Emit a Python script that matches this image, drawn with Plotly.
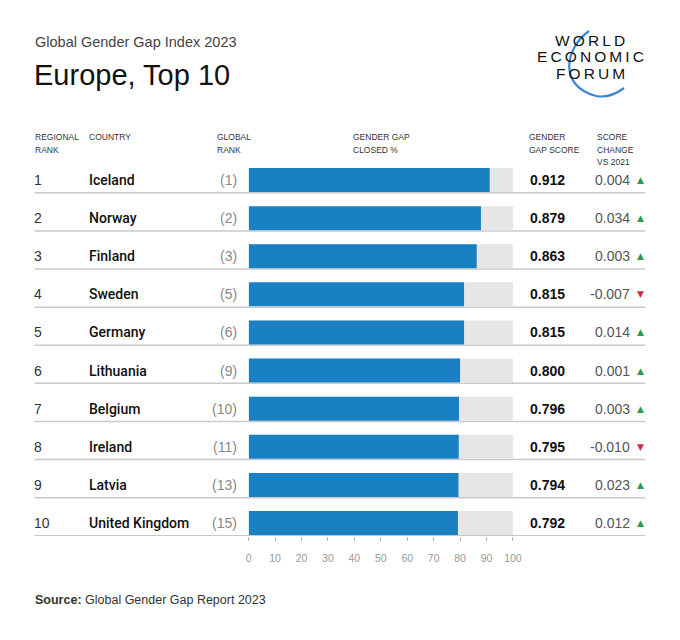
import plotly.graph_objects as go

# ---- data ----
regional_rank = [1, 2, 3, 4, 5, 6, 7, 8, 9, 10]
countries = ["Iceland", "Norway", "Finland", "Sweden", "Germany",
             "Lithuania", "Belgium", "Ireland", "Latvia", "United Kingdom"]
global_rank = [1, 2, 3, 5, 6, 9, 10, 11, 13, 15]
scores = [0.912, 0.879, 0.863, 0.815, 0.815, 0.800, 0.796, 0.795, 0.794, 0.792]
changes = [0.004, 0.034, 0.003, -0.007, 0.014, 0.001, 0.003, -0.010, 0.023, 0.012]
tick_values = [0, 10, 20, 30, 40, 50, 60, 70, 80, 90, 100]
full_scale = 100

W, H = 664, 620   # figure fits inside the 680x640 window with the default 8px body margin
OFF = 8
XS, XC = 0.981, 3.7   # observed horizontal mapping of the capture
FONT = "Liberation Sans, Arial, sans-serif"
BLUE = "#1a80c4"
GREY_BAR = "#e6e6e6"

closed_pct = [s * 100 for s in scores]

fig = go.Figure()
fig.add_trace(go.Bar(x=[full_scale] * len(countries), y=countries, orientation="h",
                     marker=dict(color=GREY_BAR, line=dict(width=0)), width=0.63,
                     hoverinfo="skip", showlegend=False))
fig.add_trace(go.Bar(x=closed_pct, y=countries, orientation="h",
                     marker=dict(color=BLUE, line=dict(width=0)), width=0.63,
                     hoverinfo="skip", showlegend=False))


def px(x):
    return ((x - XC) / XS - OFF) / W


def py(y):
    return 1 - (y - OFF) / H


anns = []


def ann(text, x, y, size, color, xanchor="left", yref="paper", family=FONT, weight=None):
    f = dict(size=size, color=color, family=family)
    if weight:
        f["weight"] = weight
    anns.append(dict(text=text, x=x, y=y, xref="paper", yref=yref,
                     xanchor=xanchor, yanchor="middle", showarrow=False,
                     font=f, borderpad=0))


# titles
ann("Global Gender Gap Index 2023", px(35), py(42), 14.5, "#444")
ann("Europe, Top 10", px(34), py(75), 29, "#111")

# logo text
TS = "\u2009"
ann(TS.join("WORLD"), px(590.5), py(40), 15.5, "#111", xanchor="center")
ann(TS.join("ECONOMIC"), px(590.5), py(57), 15.5, "#111", xanchor="center")
ann(TS.join("FORUM"), px(590.5), py(73), 15.5, "#111", xanchor="center")

# column headers
HC = "#333"
HS = 8.5
headers = [
    (35, ["REGIONAL", "RANK"]),
    (88, ["COUNTRY"]),
    (216, ["GLOBAL", "RANK"]),
    (352, ["GENDER GAP", "CLOSED %"]),
    (528, ["GENDER", "GAP SCORE"]),
    (596, ["SCORE", "CHANGE", "VS 2021"]),
]
for x, lines in headers:
    for k, line in enumerate(lines):
        ann(line, px(x), py(137 + 12.5 * k), HS, HC)

# rows
for i, c in enumerate(countries):
    ann(str(regional_rank[i]), px(34), c, 14, "#333", yref="y")
    ann(c, px(88), c, 14, "#111", yref="y", family="Roboto, Liberation Sans, sans-serif", weight=500)
    ann(f"({global_rank[i]})", px(238), c, 14, "#888", xanchor="right", yref="y")
    ann(f"{scores[i]:.3f}", px(529), c, 14, "#111", yref="y", weight="bold")
    ann(f"{changes[i]:.3f}", px(631), c, 14, "#555", xanchor="right", yref="y")
    up = changes[i] >= 0
    ann("▲" if up else "▼", px(640), c, 9, "#2f9a4c" if up else "#cc2f3c",
        xanchor="center", yref="y", family="DejaVu Sans, sans-serif")

# source
ann("<b>Source:</b> Global Gender Gap Report 2023", px(35), py(600), 12.5, "#333")

shapes = []
for i, c in enumerate(countries):
    shapes.append(dict(type="line", xref="paper", yref="y", x0=px(35), x1=px(645),
                       y0=i + 0.335, y1=i + 0.335, line=dict(color="#c9c9c9", width=1.5),
                       layer="below"))

# logo arc
arc = (f"M {px(589)},{py(31)} C {px(565)},{py(48)} {px(558)},{py(86)} {px(596)},{py(96)} "
       f"C {px(607)},{py(98)} {px(616)},{py(94)} {px(624)},{py(88)}")
shapes.append(dict(type="path", xref="paper", yref="paper", path=arc,
                   line=dict(color="#3a86d6", width=2.2)))

fig.update_layout(
    width=W, height=H,
    margin=dict(l=0, r=0, t=0, b=0),
    paper_bgcolor="white", plot_bgcolor="white",
    barmode="overlay",
    font=dict(family=FONT),
    xaxis=dict(domain=[px(249), px(513)], range=[0, full_scale], tickvals=tick_values,
               ticks="outside", ticklen=4, tickcolor="#b5b5b5", tickwidth=1,
               tickfont=dict(size=10.5, color="#999", family=FONT),
               ticklabelstandoff=8,
               showgrid=False, zeroline=False, showline=False, fixedrange=True),
    yaxis=dict(domain=[py(536), py(161)], categoryorder="array", categoryarray=countries,
               range=[9.341, -0.5], showticklabels=False, ticks="",
               showgrid=False, zeroline=False, showline=False, fixedrange=True),
    annotations=anns,
    shapes=shapes,
)

fig.write_html("out.html")
